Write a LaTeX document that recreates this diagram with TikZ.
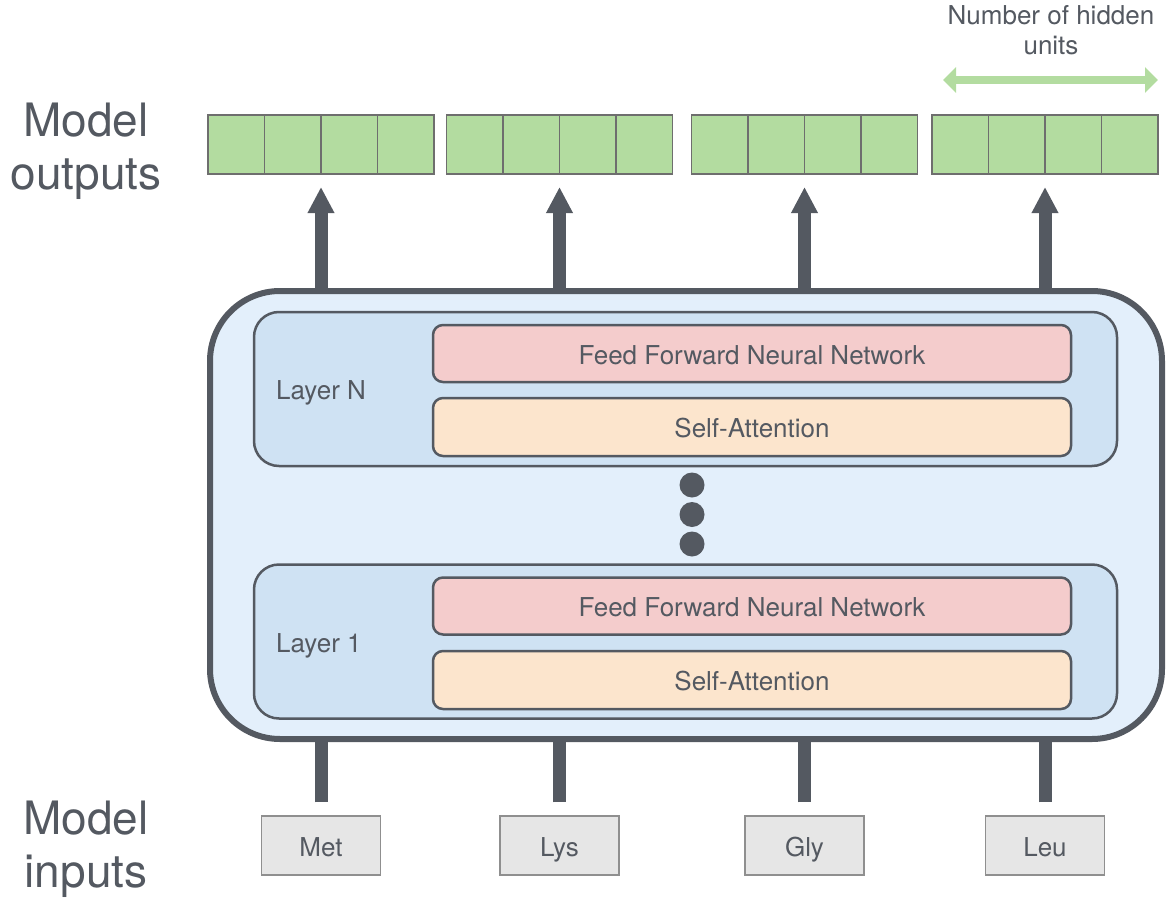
\documentclass[tikz,border=0pt]{standalone}
\usepackage{fontspec}
\setmainfont{TeX Gyre Heros}
\usetikzlibrary{arrows.meta,calc}
\definecolor{ink}{HTML}{545961}
\definecolor{outerfill}{HTML}{E3EFFB}
\definecolor{layerfill}{HTML}{CFE2F3}
\definecolor{fffill}{HTML}{F4CCCC}
\definecolor{safill}{HTML}{FCE5CD}
\definecolor{cellfill}{HTML}{B3DCA0}
\definecolor{cellline}{HTML}{6E6E6E}
\definecolor{infill}{HTML}{E6E6E6}
\definecolor{inline}{HTML}{8F8F8F}
\begin{document}
\begin{tikzpicture}[x=1pt,y=-1pt,
  txt/.style={text=ink,font=\fontsize{26}{31}\selectfont,inner sep=0pt},
  big/.style={text=ink,font=\fontsize{46}{52}\selectfont,inner sep=0pt},
  boxtxt/.style={txt,text height=24pt,text depth=3pt},
  outbar/.style={draw=cellline,line width=1.5pt,fill=cellfill,minimum width=226pt,minimum height=59pt,inner sep=0pt,outer sep=0pt},
  encbox/.style={draw=ink,line width=6pt,fill=outerfill,rounded corners=70pt,minimum width=952pt,minimum height=448pt,inner sep=0pt},
  layerbox/.style={draw=ink,line width=2.5pt,fill=layerfill,rounded corners=25pt,minimum width=863pt,minimum height=154pt,inner sep=0pt},
  ffbox/.style={boxtxt,draw=ink,line width=2.5pt,fill=fffill,rounded corners=10pt,minimum width=638pt,minimum height=57pt},
  sabox/.style={boxtxt,draw=ink,line width=2.5pt,fill=safill,rounded corners=10pt,minimum width=638pt,minimum height=58pt},
  inbox/.style={boxtxt,draw=inline,line width=1.5pt,fill=infill,minimum width=119pt,minimum height=59pt},
  dotnode/.style={circle,fill=ink,minimum size=25pt,inner sep=0pt},
  uparrow/.style={draw=ink,line width=13pt,-{Triangle[width=25pt,length=26pt]},shorten >=13pt},
  stub/.style={draw=ink,line width=13pt,shorten <=13pt},
  hidden/.style={draw=cellfill,line width=8pt,{Triangle[width=25pt,length=13pt]}-{Triangle[width=25pt,length=13pt]}}
]
\useasboundingbox (0,0) rectangle (1168,899);

% side labels
\node[big,anchor=base] (mo1) at (86,136) {Model};
\node[big,anchor=base] (mo2) at (86,189) {outputs};
\node[big,anchor=base] (mi1) at (86,834) {Model};
\node[big,anchor=base] (mi2) at (86,887) {inputs};

% hidden units label
\node[txt,anchor=base] (hu1t) at (1051,25) {Number of hidden};
\node[txt,anchor=base] (hu2t) at (1051,55) {units};
\coordinate (hu1) at (943,80);
\coordinate (hu2) at (1158,80);
\draw[hidden] (hu1) -- (hu2);

% output bars
\node[outbar] (out1) at (321,144.5) {};
\node[outbar] (out2) at (559.5,144.5) {};
\node[outbar] (out3) at (804.5,144.5) {};
\node[outbar] (out4) at (1045,144.5) {};
\foreach \o in {out1,out2,out3,out4}{
  \foreach \f in {0.25,0.5,0.75}{
    \draw[cellline,line width=1.5pt] ($(\o.north west)!\f!(\o.north east)$) -- ($(\o.south west)!\f!(\o.south east)$);
  }
}

% encoder
\node[encbox] (enc) at (686,515) {};
\node[layerbox] (layN) at (685.5,389) {};
\node[layerbox] (lay1) at (685.5,641.5) {};
\node[txt,anchor=base west] (layNt) at (276,399) {Layer N};
\node[txt,anchor=base west] (lay1t) at (276,652) {Layer 1};
\node[ffbox] (ffN) at (752,353.5) {Feed Forward Neural Network};
\node[sabox] (saN) at (752,427) {Self-Attention};
\node[ffbox] (ff1) at (752,606) {Feed Forward Neural Network};
\node[sabox] (sa1) at (752,680) {Self-Attention};
\node[dotnode] (d1) at (692,485) {};
\node[dotnode] (d2) at (692,514.5) {};
\node[dotnode] (d3) at (692,544) {};

% inputs
\node[inbox] (in1) at (321,845.5) {Met};
\node[inbox] (in2) at (559.5,845.5) {Lys};
\node[inbox] (in3) at (804.5,845.5) {Gly};
\node[inbox] (in4) at (1045,845.5) {Leu};

% connectors
\foreach \i in {1,2,3,4}{
  \draw[uparrow] (out\i.south |- enc.north) -- (out\i.south);
  \draw[stub] (in\i.north) -- (in\i.north |- enc.south);
}
\end{tikzpicture}
\end{document}
